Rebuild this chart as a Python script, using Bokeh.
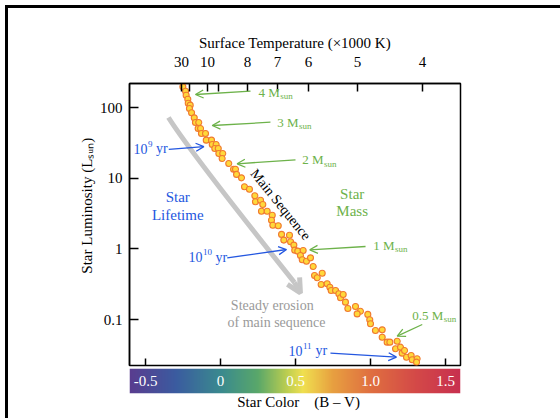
import numpy as np
from bokeh.plotting import figure
from bokeh.models import (Range1d, LinearAxis, FixedTicker, CustomJSTickFormatter,
                          Label, Arrow, OpenHead)
from bokeh.layouts import column
from bokeh.embed import file_html
from bokeh.resources import INLINE
from bokeh.core.properties import value

FONT = "Liberation Serif"
GREEN = "#6db24a"
BLUE = "#2457e0"
GRAY_TXT = "#9a9a9a"
GRAY_ARROW = "#c6c6c6"

# ---- data: main-sequence stars (B-V colour, luminosity in L_sun) ----
star_bv = [-0.251, -0.251, -0.233, -0.229, -0.218, -0.215, -0.202, -0.207, -0.193, -0.175,
           -0.167, -0.145, -0.149, -0.133, -0.127, -0.100, -0.095, -0.060, -0.055, -0.029,
           -0.038, -0.015, -0.011, 0.015, 0.011, 0.055, 0.087, 0.100, 0.107, 0.140,
           0.160, 0.193, 0.229, 0.233, 0.267, 0.282, 0.273, 0.311, 0.345, 0.340,
           0.349, 0.385, 0.407, 0.422, 0.460, 0.467, 0.489, 0.495, 0.515, 0.551,
           0.533, 0.545, 0.573, 0.600, 0.618, 0.627, 0.645, 0.678, 0.671, 0.711,
           0.729, 0.738, 0.767, 0.789, 0.800, 0.818, 0.833, 0.849, 0.900, 0.933,
           0.911, 0.982, 0.995, 1.000, 1.033, 1.078, 1.078, 1.111, 1.129, 1.178,
           1.167, 1.200, 1.211, 1.227, 1.240, 1.271, 1.278, 1.311, 1.307]
star_lum = [231, 196, 170, 149, 131, 115, 108, 96.8, 84.1, 71.4,
            61.3, 61.3, 50.5, 50.5, 42.9, 42.9, 34.5, 34.5, 29.9, 29.9,
            26.3, 26.3, 22.3, 22.3, 19.0, 16.1, 13.4, 13.4, 11.3, 10.1,
            7.55, 6.98, 5.63, 4.63, 4.88, 4.24, 3.41, 3.41, 2.99, 2.54,
            2.16, 2.12, 1.60, 1.33, 1.56, 1.26, 1.13, 0.958, 0.927, 0.948,
            0.805, 0.700, 0.668, 0.746, 0.562, 0.420, 0.389, 0.452, 0.313, 0.320,
            0.286, 0.257, 0.257, 0.231, 0.203, 0.226, 0.176, 0.143, 0.153, 0.131,
            0.120, 0.118, 0.099, 0.0869, 0.0698, 0.0714, 0.0562, 0.0478, 0.0478, 0.0493,
            0.0385, 0.0406, 0.0334, 0.0365, 0.0293, 0.0310, 0.0269, 0.0278, 0.0249]

color_ticks = [-0.5, 0.0, 0.5, 1.0, 1.5]
color_labels = ["-0.5", "0", "0.5", "1.0", "1.5"]
temp_tick_bv = [-0.26, -0.207, -0.087, -0.013, 0.18, 0.38, 0.587, 0.913, 1.347]
temp_tick_labels = ["30", "", "10", "", "8", "7", "6", "5", "4"]
lum_ticks = [0.1, 1, 10, 100]
lum_labels = ["0.1", "1", "10", "100"]

# colour-bar stops (B-V, RGB)
bar_stop_bv = [-0.61, -0.3, 0.0, 0.25, 0.45, 0.55, 0.75, 1.0, 1.3, 1.6]
bar_stop_rgb = [(90, 61, 143), (59, 92, 160), (58, 138, 143), (90, 168, 106), (192, 208, 80),
                (240, 224, 80), (232, 160, 64), (224, 112, 64), (212, 74, 72), (200, 48, 79)]

X0, X1 = -0.6067, 1.6
Y0, Y1 = 0.02234, 218.6
FRAME_H = 282
xr = Range1d(X0, X1)

LOOKUP = """
for (let i = 0; i < tv.length; i++) { if (Math.abs(tv[i] - tick) < 1e-6 * Math.max(1, Math.abs(tick))) return tl[i]; }
return '';"""

p = figure(width=552, height=360, x_range=xr, y_range=Range1d(Y0, Y1),
           y_axis_type="log", x_axis_location=None, output_backend="svg", toolbar_location=None,
           min_border_left=121, min_border_right=100, min_border_top=75, min_border_bottom=3)
p.grid.visible = False
p.outline_line_color = "black"
p.outline_line_width = 1.5
p.background_fill_color = "white"
p.border_fill_color = "white"

# bottom tick marks (pointing up into the plot)
px_per_decade = FRAME_H / np.log10(Y1 / Y0)
tick_top = Y0 * 10 ** (7 / px_per_decade)
p.segment(x0=color_ticks, y0=[Y0] * len(color_ticks), x1=color_ticks, y1=[tick_top] * len(color_ticks),
          line_color="black", line_width=1.5)

ya = p.yaxis[0]
ya.ticker = FixedTicker(ticks=lum_ticks)
ya.formatter = CustomJSTickFormatter(args=dict(tv=lum_ticks, tl=lum_labels), code=LOOKUP)
ya.major_tick_in = 9
ya.major_tick_out = 0
ya.minor_tick_line_color = None
ya.major_label_standoff = 7
ya.major_label_text_font = FONT
ya.major_label_text_font_size = "15px"
ya.major_label_text_color = "black"
ya.axis_line_width = 1.5
ya.major_tick_line_width = 1.5
ya.axis_label = "\u2003\u2003\u2002Star Luminosity (L\u209b\u1d64\u2099)"
ya.axis_label_text_font = FONT
ya.axis_label_text_font_size = "15px"
ya.axis_label_text_font_style = "normal"
ya.axis_label_text_color = "black"
ya.axis_label_standoff = 2

top = LinearAxis(ticker=FixedTicker(ticks=temp_tick_bv),
                 formatter=CustomJSTickFormatter(args=dict(tv=temp_tick_bv, tl=temp_tick_labels), code=LOOKUP),
                 axis_label="Surface Temperature (×1000 K)")
top.major_tick_in = 8
top.major_tick_out = 0
top.minor_tick_line_color = None
top.major_label_standoff = 17
top.major_label_text_font = FONT
top.major_label_text_font_size = "15px"
top.major_label_text_color = "black"
top.axis_label_text_font = FONT
top.axis_label_text_font_size = "15px"
top.axis_label_text_font_style = "normal"
top.axis_label_text_color = "black"
top.axis_label_standoff = 3
top.axis_line_width = 1.5
top.major_tick_line_width = 1.5
p.add_layout(top, "above")

# data points
p.scatter(star_bv, star_lum, size=6, fill_color="#ffd83a", line_color="#f07a30", line_width=1.1)

# gray curved "erosion" arrow
p.quadratic(x0=[-0.347], y0=[72.1], x1=[0.493], y1=[0.334], cx=[-0.204], cy=[23.7],
            line_color=GRAY_ARROW, line_width=5)
p.add_layout(Arrow(x_start=0.493, y_start=0.334, x_end=0.533, y_end=0.237,
                   line_color=GRAY_ARROW, line_width=5,
                   end=OpenHead(size=14, line_color=GRAY_ARROW, line_width=5)))


def lab(x, y, text, color, size=15, dx=0, dy=0, align="left", angle=0.0, baseline="middle"):
    p.add_layout(Label(x=x, y=y, x_offset=dx, y_offset=dy, text=text,
                       text_font=FONT, text_font_size=f"{size}px", text_color=color, text_align=align,
                       text_baseline=baseline, angle=angle))


def arrow(x0, y0, x1, y1, color):
    p.add_layout(Arrow(x_start=x0, y_start=y0, x_end=x1, y_end=y1, line_color=color, line_width=1.3,
                       end=OpenHead(size=8, line_color=color, line_width=1.3)))


# mass labels (green)
mass_labels = [("4 M", 0.253, 164.7, 21.8), ("3 M", 0.378, 61.9, 21.8), ("2 M", 0.545, 18.2, 21.8),
               ("1 M", 1.018, 1.115, 21.8), ("0.5 M", 1.278, 0.114, 31.6)]
for t, x, y, w in mass_labels:
    lab(x, y, t, GREEN, size=13)
    lab(x, y, "sun", GREEN, size=9, dx=w, dy=-4)
arrow(0.200, 170.0, -0.167, 152.8, GREEN)
arrow(0.333, 61.9, -0.055, 55.6, GREEN)
arrow(0.500, 18.2, 0.111, 15.97, GREEN)
arrow(0.967, 1.079, 0.595, 0.969, GREEN)
arrow(1.345, 0.0849, 1.178, 0.0581, GREEN)
lab(0.878, 6.01, "Star", GREEN, size=15, align="center")
lab(0.878, 3.41, "Mass", GREEN, size=15, align="center")

# lifetime labels (blue)
life_labels = [("9", -0.580, 26.1, 4.5), ("10", -0.213, 0.766, 9.0), ("11", 0.453, 0.0364, 9.0)]
for sup, x, y, w in life_labels:
    lab(x, y, "10", BLUE, size=14)
    lab(x, y, sup, BLUE, size=9, dx=14.5, dy=5)
    lab(x, y, "yr", BLUE, size=14, dx=14.5 + w + 3.5)
arrow(-0.345, 25.5, -0.111, 28.0, BLUE)
arrow(0.045, 0.746, 0.440, 0.978, BLUE)
arrow(0.733, 0.0334, 1.173, 0.0293, BLUE)
lab(-0.285, 5.38, "Star", BLUE, size=15, align="center")
lab(-0.285, 3.06, "Lifetime", BLUE, size=15, align="center")

lab(0.40, 4.24, "Main Sequence", "black", size=14, align="center", angle=-0.89)
lab(0.345, 0.158, "Steady erosion", GRAY_TXT, size=14, align="center")
lab(0.373, 0.0916, "of main sequence", GRAY_TXT, size=14, align="center")

# ---- colour bar ----
p2 = figure(width=552, height=50, x_range=xr, y_range=Range1d(0, 1),
            output_backend="svg", toolbar_location=None,
            x_axis_location=None, y_axis_location=None,
            min_border_left=121, min_border_right=100, min_border_top=0, min_border_bottom=25)
p2.grid.visible = False
p2.outline_line_color = None
p2.border_fill_color = "white"
n = 440
xs = np.linspace(X0, X1, n)
rgb = np.array(bar_stop_rgb, dtype=float)
img = np.zeros((1, n), dtype=np.uint32)
view = img.view(dtype=np.uint8).reshape((1, n, 4))
for c in range(3):
    view[0, :, c] = np.interp(xs, bar_stop_bv, rgb[:, c]).astype(np.uint8)
view[0, :, 3] = 255
p2.image_rgba(image=[img], x=X0, y=0, dw=X1 - X0, dh=1)
p2.text(x=color_ticks, y=[0.5] * len(color_ticks), text=color_labels, text_color="white",
        text_font=value(FONT), text_font_size="15px", text_align="center", text_baseline="middle")

bx = LinearAxis(ticker=FixedTicker(ticks=[]), axis_label="\u2002Star Color\u2003(B \u2013 V)")
bx.axis_line_color = None
bx.major_tick_line_color = None
bx.minor_tick_line_color = None
bx.major_tick_in = 0
bx.major_tick_out = 0
bx.major_label_standoff = 0
bx.axis_label_standoff = 0
bx.axis_label_text_font = FONT
bx.axis_label_text_font_size = "15px"
bx.axis_label_text_font_style = "normal"
bx.axis_label_text_color = "black"
p2.add_layout(bx, "below")

layout = column(p, p2, spacing=0,
                styles={"border-top": "3px solid black", "border-left": "3px solid black",
                        "margin-top": "5px", "margin-left": "5px"})

open("out.html", "w").write(file_html(layout, INLINE))
